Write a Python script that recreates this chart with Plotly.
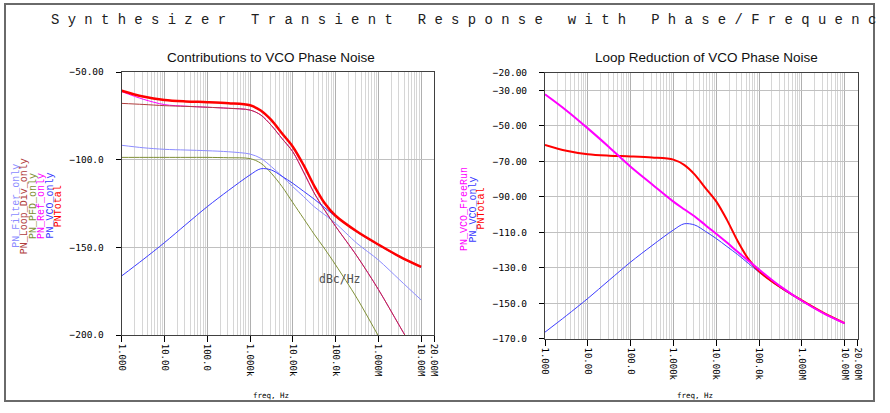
import plotly.graph_objects as go

W, H = 890, 413

# ---------------- data ----------------
freq = [1, 3.16, 10, 31.6, 100, 316, 1000, 1780, 3160, 5620,
        1e4, 1.78e4, 3.16e4, 5.62e4, 1e5, 3.16e5, 1e6, 3.16e6, 1e7]

pn_filter_only = [-91.8, -93.2, -94.1, -94.5, -94.9, -95.5, -96.8, -99.2, -104.0, -109.5,
                  -115.4, -121.0, -126.8, -131.5, -136.3, -147.7, -157.2, -168.6, -180.0]
pn_loop_div_only = [-67.9, -68.5, -69.2, -69.6, -70.1, -70.7, -71.7, -74.5, -80.5, -88.0,
                    -95.5, -107.0, -119.0, -129.0, -138.0, -155.0, -174.0, -195.0, -216.0]
pn_pfd_only = [-98.7, -98.7, -98.7, -98.7, -98.7, -98.9, -99.4, -102.0, -107.8, -115.4,
               -124.5, -133.5, -142.5, -151.0, -160.0, -179.0, -200.5, -222.0, -244.0]
pn_ref_only = [-61.2, -65.5, -68.6, -69.5, -70.1, -70.7, -71.7, -74.5, -80.5, -88.0,
               -95.5, -107.0, -119.0, -129.0, -138.0, -155.0, -174.0, -195.0, -216.0]
pn_vco_only = [-166.3, -157.0, -147.3, -137.0, -126.8, -117.5, -108.7, -105.2, -105.9, -109.5,
               -113.5, -118.0, -122.5, -127.5, -132.5, -141.3, -148.7, -155.5, -161.4]
pn_total = [-60.7, -64.0, -66.0, -66.8, -67.2, -67.8, -69.0, -72.0, -77.5, -85.1,
            -92.6, -103.0, -114.9, -125.0, -132.0, -141.0, -148.4, -155.3, -161.2]
pn_vco_freerun = [-32.2, -41.3, -51.4, -62.0, -73.0, -82.9, -92.7, -97.0, -101.1, -106.0,
                  -110.8, -115.8, -121.0, -126.0, -131.0, -140.5, -148.6, -155.6, -161.4]

x_tickvals = [1, 10, 100, 1e3, 1e4, 1e5, 1e6, 1e7, 2e7]
x_ticktext = ["1.000", "10.00", "100.0", "1.000k", "10.00k", "100.0k", "1.000M", "10.00M", "20.00M"]
y1_tickvals = [-50, -100, -150, -200]
y1_ticktext = ["\u221250.00", "\u2212100.0", "\u2212150.0", "\u2212200.0"]
y2_tickvals = [-20, -30, -50, -70, -90, -110, -130, -150, -170]
y2_ticktext = ["\u221220.00", "\u221230.00", "\u221250.00", "\u221270.00", "\u221290.00",
               "\u2212110.0", "\u2212130.0", "\u2212150.0", "\u2212170.0"]

main_title = "Synthesizer Transient Response with Phase/Frequenc"
left_title = "Contributions to VCO Phase Noise"
right_title = "Loop Reduction of VCO Phase Noise"
left_names = ["PN_Filter_only", "PN_Loop_Div_only", "PN_PFD_only", "PN_Ref_only", "PN_VCO_only", "PNTotal"]
right_names = ["PN_VCO_FreeRun", "PN_VCO_only", "PNTotal"]

# ---------------- styles ----------------
C_FILTER = "#8c8cff"
C_LOOP = "#b03c3c"
C_PFD = "#7f8f35"
C_REF = "#ff00ff"
C_VCO = "#3c3cff"
C_TOTAL = "#ff0000"

MONO = "DejaVu Sans Mono"
SANS = "Liberation Sans"

def px(x):
    return x / W

def py(y):
    return 1 - y / H

fig = go.Figure()

def line(y, color, width, xa, ya):
    fig.add_trace(go.Scatter(x=freq, y=y, mode="lines", xaxis=xa, yaxis=ya,
                             line=dict(color=color, width=width, shape="spline", smoothing=0.9),
                             showlegend=False, hoverinfo="skip"))

# left plot
line(pn_ref_only, C_REF, 1, "x", "y")
line(pn_filter_only, C_FILTER, 1, "x", "y")
line(pn_pfd_only, C_PFD, 1, "x", "y")
line(pn_loop_div_only, C_LOOP, 1, "x", "y")
line(pn_vco_only, C_VCO, 1, "x", "y")
line(pn_total, C_TOTAL, 2.5, "x", "y")
# right plot
line(pn_vco_only, C_VCO, 1, "x2", "y2")
line(pn_total, C_TOTAL, 2, "x2", "y2")
line(pn_vco_freerun, C_REF, 2, "x2", "y2")

xcommon = dict(type="log", range=[0, 7.30103], tickmode="array", tickvals=x_tickvals,
               ticktext=x_ticktext, tickangle=90, ticks="outside", ticklen=6, tickcolor="#000",
               showline=True, mirror=True, linecolor="#404040", linewidth=1,
               showgrid=True, gridcolor="#b0b0b0", gridwidth=1, zeroline=False,
               automargin=False,
               tickfont=dict(family=MONO, size=9, color="#000"),
               minor=dict(dtick="D1", showgrid=True, gridcolor="#d6d6d6", gridwidth=1, ticks=""))
ycommon = dict(tickmode="array", ticks="outside", ticklen=5, tickcolor="#000",
               showline=True, mirror=True, linecolor="#404040", linewidth=1,
               showgrid=True, gridcolor="#c0c0c0", gridwidth=1, zeroline=False,
               ticklabelstandoff=10, automargin=False,
               tickfont=dict(family=MONO, size=9.5, color="#000"))

fig.update_layout(
    width=W, height=H, margin=dict(l=0, r=0, t=0, b=0, autoexpand=False),
    paper_bgcolor="white", plot_bgcolor="white", showlegend=False,
    xaxis=dict(domain=[px(121.7), px(434)], anchor="y", **xcommon),
    yaxis=dict(domain=[py(335), py(72)], anchor="x", range=[-200, -50],
               tickvals=y1_tickvals, ticktext=y1_ticktext, **ycommon),
    xaxis2=dict(domain=[px(545), px(857.5)], anchor="y2", **xcommon),
    yaxis2=dict(domain=[py(338.7), py(72.7)], anchor="x2", range=[-170, -20],
                tickvals=y2_tickvals, ticktext=y2_ticktext, **ycommon),
)

ann = []
spaced = "\u00a0".join(list(main_title.replace(" ", "\u00a0")))
ann.append(dict(text=spaced, x=px(49), y=py(20), xref="paper", yref="paper",
                xanchor="left", yanchor="middle", showarrow=False,
                font=dict(family="Liberation Mono", size=13.9, color="#202020")))
ann.append(dict(text=left_title, x=px(271), y=py(57), xref="paper", yref="paper",
                xanchor="center", yanchor="middle", showarrow=False,
                font=dict(family=SANS, size=13.5, color="#101010")))
ann.append(dict(text=right_title, x=px(706), y=py(57), xref="paper", yref="paper",
                xanchor="center", yanchor="middle", showarrow=False,
                font=dict(family=SANS, size=13.5, color="#101010")))
for xr in ["x", "x2"]:
    ann.append(dict(text="freq,\u00a0Hz", x=3.5, y=py(395), xref=xr, yref="paper",
                    xanchor="center", yanchor="middle", showarrow=False,
                    font=dict(family=MONO, size=7.5, color="#000")))
ann.append(dict(text="dBc/Hz", x=5.1, y=-168, xref="x", yref="y",
                xanchor="center", yanchor="middle", showarrow=False,
                font=dict(family=MONO, size=11.5, color="#505050")))

left_colors = [C_FILTER, C_LOOP, C_PFD, C_REF, C_VCO, C_TOTAL]
left_x = [15.7, 24.2, 33.0, 41.0, 49.5, 58.2]
for name, col, xx in zip(left_names, left_colors, left_x):
    ann.append(dict(text=name, x=px(xx), y=py(206), xref="paper", yref="paper",
                    xanchor="center", yanchor="middle", textangle=-90, showarrow=False,
                    font=dict(family="Liberation Mono", size=10, color=col)))
right_colors = [C_REF, C_VCO, C_TOTAL]
right_x = [465.0, 473.5, 481.5]
for name, col, xx in zip(right_names, right_colors, right_x):
    ann.append(dict(text=name, x=px(xx), y=py(209), xref="paper", yref="paper",
                    xanchor="center", yanchor="middle", textangle=-90, showarrow=False,
                    font=dict(family="Liberation Mono", size=10, color=col)))
fig.update_layout(annotations=ann)

fig.add_shape(type="rect", xref="paper", yref="paper", x0=px(5), x1=px(874),
              y0=py(401), y1=py(4), line=dict(color="#6a6a6a", width=2), layer="below")

fig.write_html("out.html", config={"displayModeBar": False},
               post_script="document.body.style.margin='0px';")
